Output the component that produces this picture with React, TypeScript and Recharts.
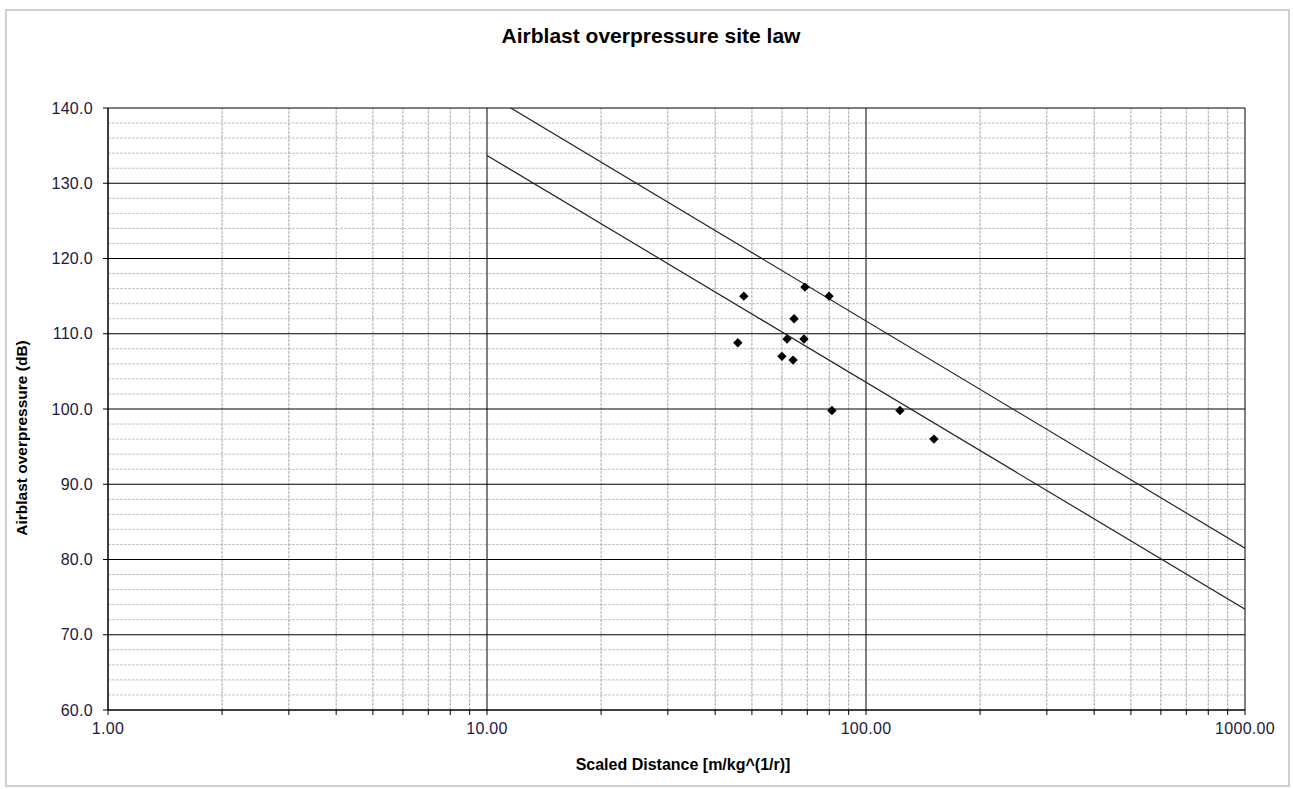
import {
  ComposedChart,
  XAxis,
  YAxis,
  Line,
  Scatter,
  ReferenceLine,
} from "recharts";

// measured blasts: scaled distance vs overpressure
const scaledDistance = [45.9, 47.6, 60.0, 61.9, 64.2, 64.6, 69.0, 68.6, 79.9, 81.3, 122.9, 151.1];
const overpressure = [108.8, 115.0, 107.0, 109.3, 106.5, 112.0, 116.2, 109.3, 115.0, 99.8, 99.8, 96.0];

// site law lines (end points)
const upperLaw = [
  { x: 10, y: 141.9 },
  { x: 1000, y: 81.5 },
];
const lowerLaw = [
  { x: 10, y: 133.7 },
  { x: 1000, y: 73.4 },
];

const yMajor = [60, 70, 80, 90, 100, 110, 120, 130, 140];
const xMajor = [1, 10, 100, 1000];

const yMinor: number[] = [];
for (let v = 62; v < 140; v += 2) if (v % 10 !== 0) yMinor.push(v);
const xMinor: number[] = [];
[1, 10, 100].forEach((d) => {
  for (let k = 2; k <= 9; k++) xMinor.push(d * k);
});
const xTicks = [...xMajor, ...xMinor].sort((a, b) => a - b);

const points = scaledDistance.map((x, i) => ({ x, y: overpressure[i] }));

const font = "'Liberation Sans', Arial, sans-serif";

const Diamond = (props: any) => {
  const { cx, cy } = props;
  if (cx == null || cy == null) return null;
  const r = 4.7;
  return (
    <polygon
      points={`${cx},${cy - r} ${cx + r},${cy} ${cx},${cy + r} ${cx - r},${cy}`}
      fill="#000"
    />
  );
};

export default function App() {
  return (
    <div style={{ position: "absolute", left: 0, top: 0, width: 1293, height: 789, fontFamily: font }}>
      <div
        style={{
          position: "absolute",
          left: 5,
          top: 9,
          width: 1281,
          height: 774,
          border: "2px solid #cfcfcf",
        }}
      />
      <div
        style={{
          position: "absolute",
          left: 0,
          width: 1302,
          top: 24,
          textAlign: "center",
          fontWeight: "bold",
          fontSize: 21,
        }}
      >
        Airblast overpressure site law
      </div>
      <div
        style={{
          position: "absolute",
          left: 22,
          top: 438,
          transform: "translate(-50%, -50%) rotate(-90deg)",
          whiteSpace: "nowrap",
          fontWeight: "bold",
          fontSize: 15.5,
        }}
      >
        Airblast overpressure (dB)
      </div>
      <div
        style={{
          position: "absolute",
          left: 683,
          top: 765,
          transform: "translate(-50%, -50%)",
          whiteSpace: "nowrap",
          fontWeight: "bold",
          fontSize: 16,
        }}
      >
        Scaled Distance [m/kg^(1/r)]
      </div>
      <ComposedChart
        width={1293}
        height={789}
        margin={{ top: 108, right: 48, bottom: 49, left: 48 }}
        style={{ position: "absolute", left: 0, top: 0 }}
      >
        <XAxis
          type="number"
          dataKey="x"
          scale="log"
          domain={[1, 1000]}
          allowDataOverflow
          ticks={xTicks}
          interval={0}
          height={30}
          tickSize={5}
          tickMargin={8}
          axisLine={{ stroke: "#000" }}
          tickLine={{ stroke: "#000" }}
          tick={{ fill: "#1a1a40", fontSize: 16, fontFamily: font, letterSpacing: 0.3 }}
          tickFormatter={(v: number) => (xMajor.includes(v) ? v.toFixed(2) : "")}
        />
        <YAxis
          type="number"
          dataKey="y"
          domain={[60, 140]}
          allowDataOverflow
          ticks={yMajor}
          interval={0}
          width={60}
          tickSize={5}
          tickMargin={10}
          axisLine={{ stroke: "#000" }}
          tickLine={{ stroke: "#000" }}
          tick={{ fill: "#1a1a40", fontSize: 16, fontFamily: font, letterSpacing: 0.3 }}
          tickFormatter={(v: number) => v.toFixed(1)}
        />
        {yMinor.map((v) => (
          <ReferenceLine key={`ym${v}`} y={v} stroke="#c4c4c4" strokeDasharray="3 1" />
        ))}
        {xMinor.map((v) => (
          <ReferenceLine key={`xm${v}`} x={v} stroke="#a8a8a8" strokeDasharray="3 1" />
        ))}
        {yMajor.map((v) => (
          <ReferenceLine key={`yM${v}`} y={v} stroke="#000" />
        ))}
        {xMajor.map((v) => (
          <ReferenceLine key={`xM${v}`} x={v} stroke="#000" />
        ))}
        <Line
          data={upperLaw}
          dataKey="y"
          stroke="#222"
          strokeWidth={1.2}
          dot={false}
          isAnimationActive={false}
        />
        <Line
          data={lowerLaw}
          dataKey="y"
          stroke="#222"
          strokeWidth={1.2}
          dot={false}
          isAnimationActive={false}
        />
        <Scatter data={points} dataKey="y" shape={<Diamond />} isAnimationActive={false} />
      </ComposedChart>
    </div>
  );
}
